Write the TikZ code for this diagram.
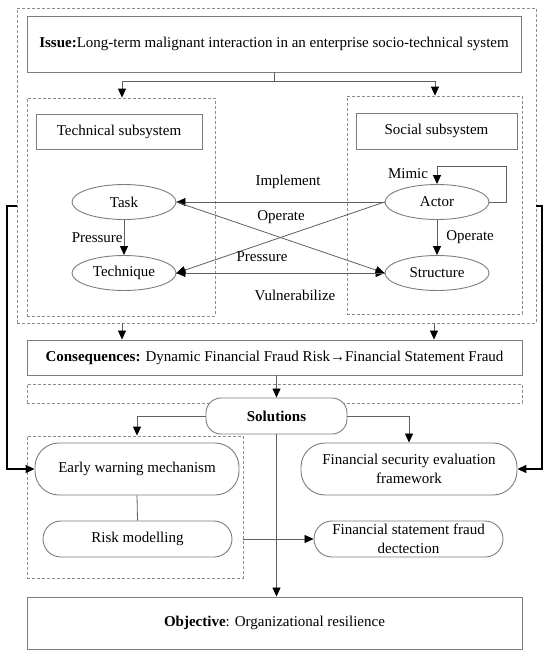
\documentclass[tikz,border=0pt]{standalone}
\usepackage{fontspec}
\setmainfont{Liberation Serif}
\usetikzlibrary{shapes.geometric,arrows.meta,calc}
\definecolor{boxgray}{RGB}{125,125,125}
\definecolor{linegray}{RGB}{95,95,95}
\definecolor{dashgray}{RGB}{140,140,140}
\begin{document}
\begin{tikzpicture}[x=1pt,y=-1pt,
  font=\fontsize{15}{18.5}\selectfont,
  sq/.style={draw=boxgray, line width=0.9pt, inner sep=0pt, align=center, fill=white},
  rbox/.style={sq, rounded corners=18pt},
  dbox/.style={draw=dashgray, dash pattern=on 3pt off 2pt, line width=0.8pt, inner sep=0pt},
  ell/.style={ellipse, draw=boxgray, line width=0.9pt, minimum width=104pt, minimum height=35pt, inner sep=0pt},
  conn/.style={draw=linegray, line width=0.8pt},
  arr/.style={conn, -{Triangle[length=9pt,width=8pt,color=black,fill=black]}},
  side/.style={draw=black, line width=1.8pt, -{Triangle[length=9pt,width=8pt,color=black,fill=black]}},
  lbl/.style={inner sep=0pt}
]
\useasboundingbox (0,0) rectangle (550,656);

% dashed containers
\node[dbox, minimum width=519pt, minimum height=315pt] (outer) at (276.5,165.5) {};
\node[dbox, minimum width=188pt, minimum height=218pt] (tech) at (121,207) {};
\node[dbox, minimum width=175pt, minimum height=218pt] (soc) at (434.5,205) {};
\node[dbox, minimum width=495pt, minimum height=19pt] (empty) at (274.5,393.5) {};
\node[dbox, minimum width=216pt, minimum height=142pt] (early) at (135,507) {};

% boxes
\node[sq, minimum width=494pt, minimum height=56pt] (issue) at (274,44)
  {\textbf{Issue:}Long-term malignant interaction in an enterprise socio-technical system};
\node[sq, minimum width=166pt, minimum height=35pt] (techsub) at (119,131.5) {Technical subsystem};
\node[sq, minimum width=161pt, minimum height=36pt] (socsub) at (436.5,131) {Social subsystem};

\node[ell] (task) at (124,202) {Task};
\node[ell] (technique) at (124,273) {Technique};
\node[ell] (actor) at (437,202) {Actor};
\node[ell] (structure) at (437,273) {Structure};

\node[sq, minimum width=495pt, minimum height=35pt] (cons) at (274.5,357.5)
  {\textbf{Consequences:} Dynamic Financial Fraud Risk\textrightarrow Financial Statement Fraud};
\node[rbox, rounded corners=15pt, minimum width=141pt, minimum height=36pt] (sol) at (276.5,416) {\textbf{Solutions}};
\node[rbox, rounded corners=24pt, minimum width=204pt, minimum height=52pt] (ew) at (137,469) {Early warning mechanism};
\node[rbox, rounded corners=24pt, minimum width=216pt, minimum height=52pt] (fse) at (409,469) {Financial security evaluation\\framework};
\node[rbox, minimum width=189pt, minimum height=36pt] (rm) at (137.5,539) {Risk modelling};
\node[rbox, minimum width=189pt, minimum height=36pt] (fsfd) at (408.5,539) {Financial statement fraud\\dectection};
\node[sq, minimum width=495pt, minimum height=52pt] (obj) at (274.5,623) {\textbf{Objective}: Organizational resilience};

% issue to subsystems
\draw[conn] (issue.south) -- ++(0,9) coordinate (split);
\draw[arr] (split) -| (tech.north -| 122,0);
\draw[arr] (split) -| (soc.north -| 435,0);

% internal relations
\draw[arr] (task) -- (technique) node[lbl, midway, left=1pt] {Pressure};
\draw[arr] (actor) -- (structure) node[lbl, midway, right=9pt] {Operate};
\draw[arr] (actor.east) -- ++(17,0) |- ($(actor.north)+(0,-18)$) -- (actor.north);
\node[lbl] (mimic) at (408,174) {Mimic};
\draw[arr] (actor.west) -- (task.east);
\draw[arr] (actor.west) -- (technique.east);
\draw[arr] (task.east) -- (structure.west);
\draw[arr] (technique.east) -- (structure.west);
\draw[arr] (structure.west) -- (technique.east);
\node[lbl] (limp) at (288,182) {Implement};
\node[lbl] (lop) at (281,217) {Operate};
\node[lbl] (lpr) at (262,257) {Pressure};
\node[lbl] (lvu) at (295,295) {Vulnerabilize};

% to consequences
\draw[arr] (outer.south -| 122,0) -- (cons.north -| 122,0);
\draw[arr] (outer.south -| 434,0) -- (cons.north -| 434,0);
\draw[arr] (cons.south -| sol.north) -- (sol.north);

% solutions
\draw[arr] (sol.west) -| (early.north -| ew.north);
\draw[arr] (sol.east) -| (fse.north);
\draw[arr] (sol.south) -- (obj.north -| sol.south);
\draw[conn] (ew.south) -- (rm.north);
\draw[arr] (early.east |- fsfd.west) -- (fsfd.west);

% side feedback lines
\draw[side] (outer.west |- 0,206) -- (7,206) |- (ew.west);
\draw[side] (outer.east |- 0,206) -- (542,206) |- (fse.east);
\end{tikzpicture}
\end{document}
